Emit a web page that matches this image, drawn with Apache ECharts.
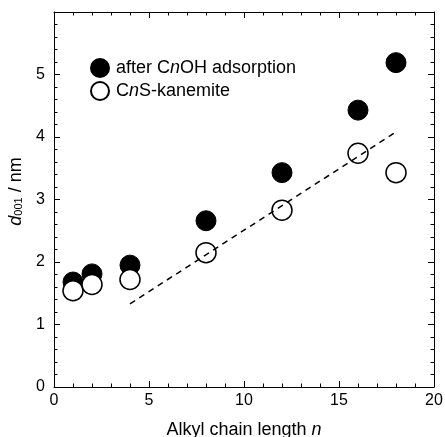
<!DOCTYPE html>
<html>
<head>
<meta charset="utf-8">
<script src="https://cdn.jsdelivr.net/npm/echarts@6/dist/echarts.min.js"></script>
<style>
    html, body { margin: 0; padding: 0; background: #fff; }
    #main { width: 445px; height: 437px; }
</style>
</head>
<body>
<div id="main"></div>
<script>
    // chain lengths and d001 values
    var chainLength = [1, 2, 4, 8, 12, 16, 18];
    var afterAdsorption = [1.68, 1.81, 1.95, 2.66, 3.43, 4.43, 5.19];
    var kanemite = [1.54, 1.64, 1.72, 2.15, 2.83, 3.74, 3.43];
    var fitLine = [[4, 1.33], [18, 4.08]];
    var xTicks = [0, 5, 10, 15, 20];
    var yTicks = [0, 1, 2, 3, 4, 5];

    function pairs(xs, ys) {
        var out = [];
        for (var i = 0; i < xs.length; i++) out.push([xs[i], ys[i]]);
        return out;
    }

    var font = 'Liberation Sans';
    var lineBlack = {show: true, onZero: false, lineStyle: {color: '#000', width: 1}};
    var tickStyle = {show: true, inside: true, length: 6, lineStyle: {color: '#000', width: 1}};
    var minorStyle = {show: true, splitNumber: 5, length: 3.5, lineStyle: {color: '#000', width: 1}};

    var myChart = echarts.init(document.getElementById('main'));
    var option = {
        animation: false,
        grid: {left: 54, right: 11, top: 12, bottom: 50, containLabel: false, outerBoundsMode: 'none'},
        legend: {
            orient: 'vertical',
            left: 85,
            top: 53,
            itemGap: 3,
            itemWidth: 18,
            itemHeight: 18,
            data: ['after', 'kan'],
            formatter: function (name) {
                if (name === 'after') return '{t|after C}{i|n}{t|OH adsorption}';
                return '{t|C}{i|n}{t|S-kanemite}';
            },
            textStyle: {
                fontFamily: font, fontSize: 18, color: '#000', padding: [0, 0, 0, 2],
                rich: {
                    t: {fontFamily: font, fontSize: 18, color: '#000'},
                    i: {fontFamily: font, fontSize: 18, fontStyle: 'italic', color: '#000'}
                }
            }
        },
        xAxis: [
            {
                type: 'value', min: 0, max: 20, interval: 5,
                name: '{t|Alkyl chain length }{i|n}',
                nameLocation: 'middle', nameGap: 34,
                nameTextStyle: {
                    fontFamily: font, fontSize: 18, color: '#000',
                    rich: {
                        t: {fontFamily: font, fontSize: 18, color: '#000'},
                        i: {fontFamily: font, fontSize: 18, color: '#000', fontStyle: 'italic'}
                    }
                },
                axisLine: lineBlack,
                axisTick: tickStyle,
                minorTick: minorStyle,
                splitLine: {show: false},
                axisLabel: {
                    margin: 6, fontFamily: font, fontSize: 16, color: '#000',
                    formatter: function (v) { return xTicks.indexOf(v) >= 0 ? String(v) : ''; }
                }
            },
            {
                type: 'value', min: 0, max: 20, interval: 5, position: 'top',
                axisLine: lineBlack,
                axisTick: tickStyle, minorTick: minorStyle,
                splitLine: {show: false}, axisLabel: {show: false}
            }
        ],
        yAxis: [
            {
                type: 'value', min: 0, max: 6, interval: 1,
                name: '{i|d}{s|001}{t| / nm}',
                nameLocation: 'middle', nameGap: 27, nameRotate: 90,
                nameTextStyle: {
                    fontFamily: font, fontSize: 18, color: '#000', padding: [0, 0, 0, 16],
                    rich: {
                        i: {fontFamily: font, fontSize: 18, color: '#000', fontStyle: 'italic'},
                        s: {fontFamily: font, fontSize: 11, color: '#000', padding: [6, 0, 0, 0]},
                        t: {fontFamily: font, fontSize: 18, color: '#000'}
                    }
                },
                axisLine: lineBlack,
                axisTick: tickStyle,
                minorTick: minorStyle,
                splitLine: {show: false},
                axisLabel: {
                    margin: 9, fontFamily: font, fontSize: 16, color: '#000',
                    formatter: function (v) { return yTicks.indexOf(v) >= 0 ? String(v) : ''; }
                }
            },
            {
                type: 'value', min: 0, max: 6, interval: 1, position: 'right',
                axisLine: lineBlack,
                axisTick: tickStyle, minorTick: minorStyle,
                splitLine: {show: false}, axisLabel: {show: false}
            }
        ],
        series: [
            {
                name: 'fit', type: 'line', data: fitLine,
                symbol: 'none', silent: true,
                lineStyle: {color: '#000', width: 1.5, type: [6, 5]}
            },
            {
                name: 'after', type: 'scatter', data: pairs(chainLength, afterAdsorption),
                symbol: 'circle', symbolSize: 20,
                itemStyle: {color: '#000', borderColor: '#000', borderWidth: 1, opacity: 1}
            },
            {
                name: 'kan', type: 'scatter', data: pairs(chainLength, kanemite),
                symbol: 'circle', symbolSize: 20,
                itemStyle: {color: '#fff', borderColor: '#000', borderWidth: 1.5, opacity: 1}
            }
        ]
    };
    myChart.setOption(option);
</script>
</body>
</html>
